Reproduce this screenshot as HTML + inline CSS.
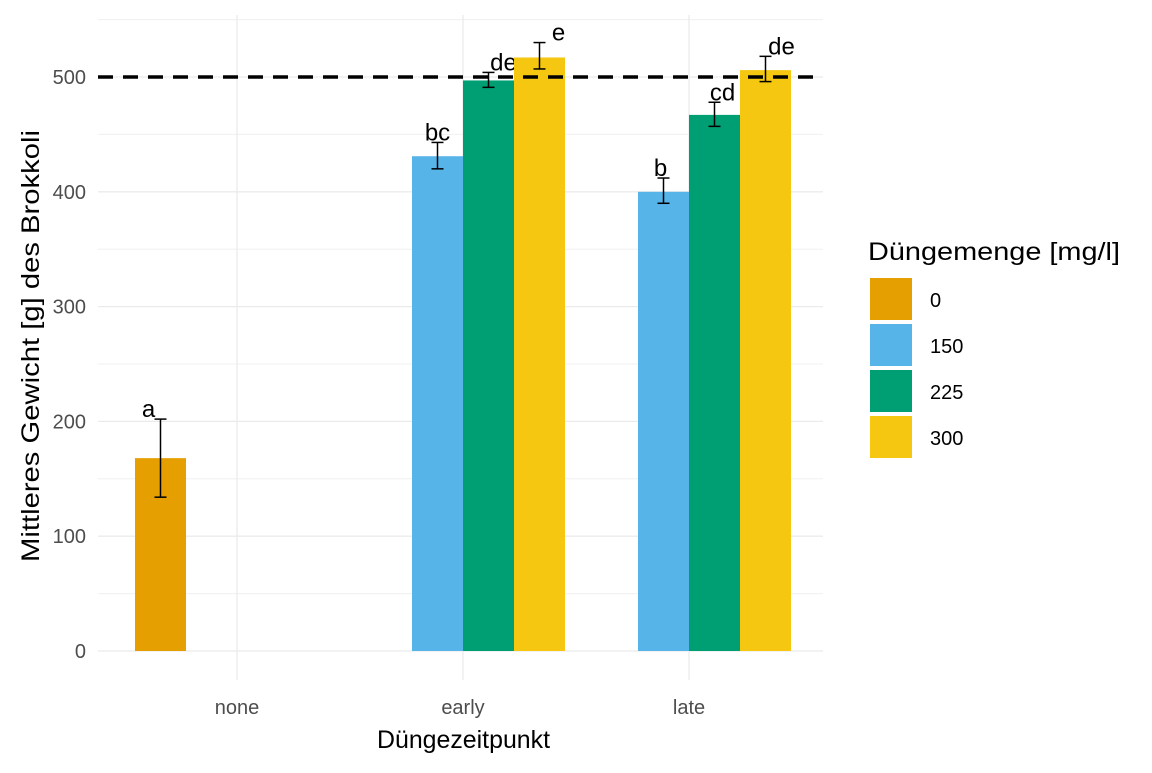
<!DOCTYPE html>
<html><head><meta charset="utf-8"><style>
body{margin:0;background:#fff;}
svg{font-family:"Liberation Sans",Arial,sans-serif;}
</style></head><body>
<svg id="chart" width="1152" height="768" xmlns="http://www.w3.org/2000/svg"></svg>
<script>
const categories = ["none","early","late"];
const groups = ["0","150","225","300"];
const groupColors = ["#E69F00","#56B4E9","#009E73","#F5C710"];
const barCat = [0,1,1,1,2,2,2];
const barGroup = [0,1,2,3,1,2,3];
const barMean = [168,431,497,517,400,467,506];
const barLow = [134,420,491,507,390,457,496];
const barHigh = [202,443,504,530,412,478,518];
const barLetter = ["a","bc","de","e","b","cd","de"];
const yTicks = [0,100,200,300,400,500];
const yMinor = [50,150,250,350,450,550];
const refLine = 500;

const letterDx = [-12,0,15,19,-3,8,16];
const svg = document.getElementById('chart');
const NS = "http://www.w3.org/2000/svg";
const pL=98, pR=823, pT=15, pB=680;
const y0px=651, pxPerUnit=1.148;
const y = v => y0px - v*pxPerUnit;
const x = i => 237 + i*226;
const slotW = 51;
function el(tag, attrs, name, text){
  const e=document.createElementNS(NS,tag);
  for(const k in attrs) e.setAttribute(k,attrs[k]);
  
  
  if(text!==undefined) e.textContent=text;
  svg.appendChild(e); return e;
}
yMinor.forEach(v=>el('line',{x1:pL,x2:pR,y1:y(v),y2:y(v),stroke:'#f0f0f0','stroke-width':1},'minor-gridline'));
yTicks.forEach(v=>{
  el('line',{x1:pL,x2:pR,y1:y(v),y2:y(v),stroke:'#ebebeb','stroke-width':1.3},'major-gridline');
  el('text',{x:86,y:y(v)+7,'text-anchor':'end','font-size':20,fill:'#4d4d4d'},'y-tick-label',String(v));
});
categories.forEach((c,i)=>{
  el('line',{x1:x(i),x2:x(i),y1:pT,y2:pB,stroke:'#ebebeb','stroke-width':1.3},'vertical-gridline');
  el('text',{x:x(i),y:714,'text-anchor':'middle','font-size':20,fill:'#4d4d4d'},'x-tick-label',c);
});
barMean.forEach((m,k)=>{
  const cx = x(barCat[k]) - 2*slotW + barGroup[k]*slotW;
  el('rect',{x:cx,y:y(m),width:slotW,height:y(0)-y(m),fill:groupColors[barGroup[k]]},'bar-'+categories[barCat[k]]+'-'+groups[barGroup[k]]);
  const mid=cx+slotW/2;
  el('line',{x1:mid,x2:mid,y1:y(barLow[k]),y2:y(barHigh[k]),stroke:'#000','stroke-width':1.5},'error-bar');
  el('line',{x1:mid-6,x2:mid+6,y1:y(barLow[k]),y2:y(barLow[k]),stroke:'#000','stroke-width':1.5},'error-cap');
  el('line',{x1:mid-6,x2:mid+6,y1:y(barHigh[k]),y2:y(barHigh[k]),stroke:'#000','stroke-width':1.5},'error-cap');
  el('text',{x:mid+letterDx[k],y:y(barHigh[k])-2,'text-anchor':'middle','font-size':24,fill:'#000'},'significance-letter',barLetter[k]);
});
el('line',{x1:pL,x2:pR,y1:y(refLine),y2:y(refLine),stroke:'#000','stroke-width':3.5,'stroke-dasharray':'15,10'},'reference-line');
el('text',{x:377,y:748,'font-size':25,fill:'#000',textLength:173,lengthAdjust:'spacingAndGlyphs'},'x-axis-title','Düngezeitpunkt');
el('text',{x:0,y:0,'font-size':25,fill:'#000',textLength:432,lengthAdjust:'spacingAndGlyphs',transform:'translate(39,562) rotate(-90)'},'y-axis-title','Mittleres Gewicht [g] des Brokkoli');
el('text',{x:868,y:260,'font-size':25,fill:'#000',textLength:252,lengthAdjust:'spacingAndGlyphs'},'legend-title','Düngemenge [mg/l]');
groups.forEach((g,i)=>{
  el('rect',{x:870,y:278+i*46,width:42,height:42,fill:groupColors[i]},'legend-key-'+g);
  el('text',{x:930,y:307+i*46,'font-size':20,fill:'#000'},'legend-label',g);
});
</script>
</body></html>
